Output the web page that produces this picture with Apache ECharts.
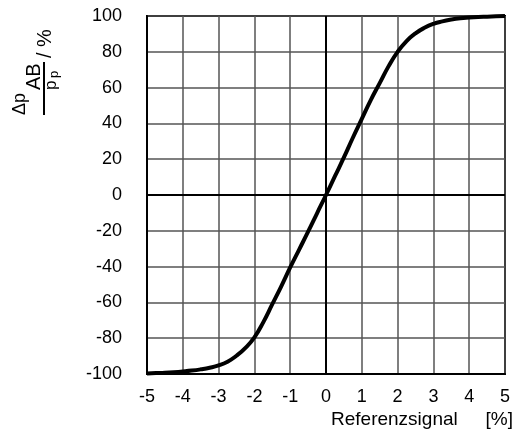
<!DOCTYPE html>
<html>
<head>
<meta charset="utf-8">
<script src="https://cdn.jsdelivr.net/npm/echarts@6/dist/echarts.min.js"></script>
<style>
  html, body { margin: 0; padding: 0; background: #fff; }
  #main { width: 521px; height: 438px; }
</style>
</head>
<body>
<div id="main"></div>
<script>
// reference signal in %, and pressure difference dp_AB / p_p in %
var refSignal = [-5, -4.75, -4.5, -4.25, -4, -3.75, -3.5, -3.25, -3, -2.75, -2.5, -2.25, -2,
                 -1.75, -1.5, -1.25, -1, -0.75, -0.5, -0.25, 0, 0.25, 0.5, 0.75, 1,
                 1.25, 1.5, 1.75, 2, 2.25, 2.5, 2.75, 3, 3.25, 3.5, 3.75, 4, 4.25, 4.5, 4.75, 5];
var dpRatio = [-99.7, -99.5, -99.3, -99, -98.6, -98.1, -97.4, -96.5, -95.2, -93.1, -89.8, -85.4, -79.5,
               -71, -61, -51, -40.5, -30.5, -20.5, -10.2, 0, 10.5, 21, 32, 42.5,
               53, 62.5, 72, 80, 86, 90.3, 93.4, 95.6, 97, 98, 98.7, 99.1, 99.4, 99.6, 99.8, 100];
var xTicks = [-5, -4, -3, -2, -1, 0, 1, 2, 3, 4, 5];
var yTicks = [-100, -80, -60, -40, -20, 0, 20, 40, 60, 80, 100];

var font = 'Liberation Sans, Arial, sans-serif';
var myChart = echarts.init(document.getElementById('main'));

var points = refSignal.map(function (x, i) { return [x, dpRatio[i]]; });

var option = {
  animation: false,
  backgroundColor: '#fff',
  grid: {
    left: 147, right: 16, top: 16, bottom: 64,
    show: true, borderColor: '#000', borderWidth: 2, backgroundColor: 'transparent'
  },
  xAxis: {
    type: 'value',
    min: xTicks[0], max: xTicks[xTicks.length - 1], interval: 1,
    axisLine: { show: true, onZero: false, lineStyle: { color: '#000', width: 2 } },
    axisTick: { show: false },
    axisLabel: { color: '#000', fontSize: 18, fontFamily: font, margin: 14 },
    splitLine: { show: true, lineStyle: { color: '#555', width: 1.5 } }
  },
  yAxis: {
    type: 'value',
    min: yTicks[0], max: yTicks[yTicks.length - 1], interval: 20,
    axisLine: { show: true, onZero: false, lineStyle: { color: '#000', width: 2 } },
    axisTick: { show: false },
    axisLabel: { color: '#000', fontSize: 18, fontFamily: font, margin: 25 },
    splitLine: { show: true, lineStyle: { color: '#555', width: 1.5 } }
  },
  series: [{
    type: 'line',
    data: points,
    smooth: 0.5,
    showSymbol: false,
    lineStyle: { color: '#000', width: 4 },
    markLine: {
      silent: true,
      symbol: 'none',
      label: { show: false },
      lineStyle: { color: '#000', width: 2, type: 'solid' },
      data: [{ xAxis: 0 }, { yAxis: 0 }]
    }
  }],
  graphic: [
    {
      type: 'group',
      x: 0, y: 120,
      rotation: Math.PI / 2,
      children: [
        { type: 'text', x: 5, y: 20, style: { text: '\u0394p', font: '18px ' + font, fill: '#000', verticalAlign: 'middle' } },
        { type: 'text', x: 30, y: 34, style: { text: 'AB', font: '20px ' + font, fill: '#000', verticalAlign: 'middle' } },
        { type: 'line', shape: { x1: 5, y1: 44, x2: 58, y2: 44 }, style: { stroke: '#000', lineWidth: 2 } },
        { type: 'text', x: 30, y: 51, style: { text: 'p', font: '17px ' + font, fill: '#000', verticalAlign: 'middle' } },
        { type: 'text', x: 42, y: 54, style: { text: 'p', font: '13px ' + font, fill: '#000', verticalAlign: 'middle' } },
        { type: 'text', x: 62, y: 45, style: { text: '/ %', font: '20px ' + font, fill: '#000', verticalAlign: 'middle' } }
      ]
    },
    { type: 'text', left: 331, top: 410, style: { text: 'Referenzsignal', font: '19px ' + font, fill: '#000' } },
    { type: 'text', right: 8, top: 410, style: { text: '[%]', font: '19px ' + font, fill: '#000' } }
  ]
};

myChart.setOption(option);
</script>
</body>
</html>
